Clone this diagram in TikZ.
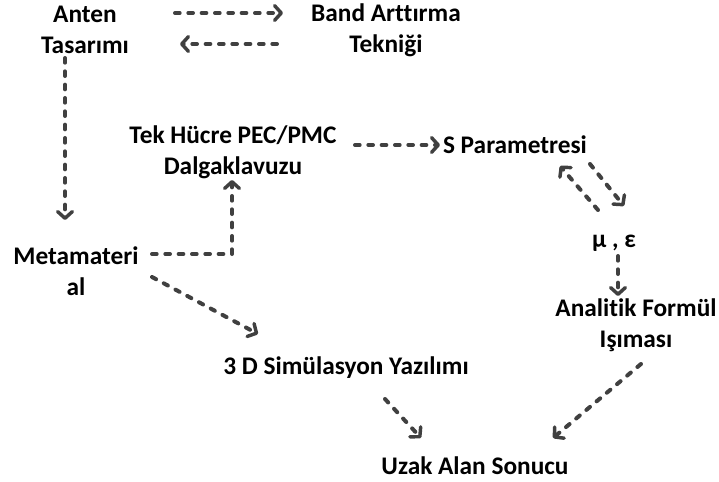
\documentclass[tikz,border=0pt]{standalone}
\usepackage{fontspec}
\setmainfont[Ligatures=NoCommon]{Carlito}
\usepackage{tikz}
\usetikzlibrary{arrows.meta,calc}
\definecolor{dashgray}{HTML}{404040}

\begin{document}
\begin{tikzpicture}[
    x=0.75pt, y=-0.75pt,
    font=\bfseries\fontsize{19}{23}\selectfont,
    lbl/.style={align=center, inner sep=0pt},
    flow/.style={draw=dashgray, line width=3pt, line cap=round, dash pattern=on 3.5pt off 6.5pt,
                 -{Straight Barb[length=5pt, width=11pt, line width=2.6pt, line cap=round, line join=round]}}
]
  \useasboundingbox (0,0) rectangle (719,482);

  \node[lbl] (anten) at (85,30) {Anten\\Tasarımı};
  \node[lbl] (band) at (386,30) {Band Arttırma\\Tekniği};
  \node[lbl] (tek) at (233,152) {Tek Hücre PEC/PMC\\Dalgaklavuzu};
  \node[lbl] (spar) at (515,145) {S Parametresi};
  \node[lbl] (mu) at (614,243) {μ , ε};
  \node[lbl] (meta) at (76,271) {Metamateri\\al};
  \node[lbl] (analitik) at (636,325) {Analitik Formül\\Işıması};
  \node[lbl] (sim) at (346,368) {3 D Simülasyon Yazılımı};
  \node[lbl] (uzak) at (475,466) {Uzak Alan Sonucu};

  \draw[flow] ($(anten)+(90,-17)$) -- ($(band)+(-103,-17)$);
  \draw[flow] ($(band)+(-109,14)$) -- ($(anten)+(95,14)$);
  \draw[flow] ($(anten)+(-20,28)$) -- ($(meta)+(-11,-51)$);
  \draw[flow] ($(meta)+(76,-17)$) -| ($(tek)+(-1,28)$);
  \draw[flow] ($(tek)+(122,-7)$) -- ($(spar)+(-75,0)$);
  \draw[flow] ($(mu)+(-16,-33)$) -- ($(spar)+(45,21)$);
  \draw[flow] ($(spar)+(75,19)$) -- ($(mu)+(10,-37)$);
  \draw[flow] ($(mu)+(4,13)$) -- ($(analitik)+(-18,-29)$);
  \draw[flow] ($(meta)+(76,6)$) -- ($(sim)+(-88,-34)$);
  \draw[flow] ($(sim)+(39,31)$) -- ($(uzak)+(-54,-28)$);
  \draw[flow] ($(analitik)+(5,39)$) -- ($(uzak)+(78,-28)$);
\end{tikzpicture}
\end{document}
